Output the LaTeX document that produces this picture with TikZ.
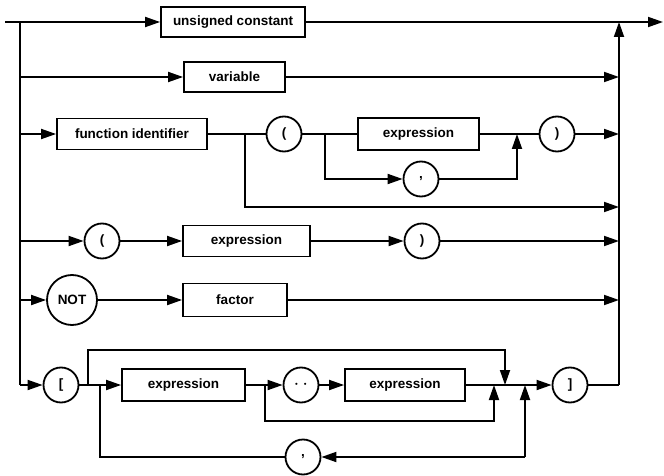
\documentclass[tikz,border=0pt]{standalone}
\usepackage{fontspec}
\setmainfont{Liberation Sans}
\usetikzlibrary{arrows.meta}
\begin{document}
\begin{tikzpicture}[x=1pt,y=-1pt,line width=1.8pt,
  lbl/.style={font=\fontsize{13.5}{15}\selectfont\bfseries},
  box/.style={draw,rectangle,lbl,inner sep=0pt,minimum height=30pt},
  circ/.style={draw,circle,lbl,inner sep=0pt,minimum size=35pt},
  arr/.style={-{Triangle[length=15pt,width=10pt]}}]
\path[use as bounding box] (0,0) rectangle (664,476);
% nodes
\node[box,minimum width=144pt] (uc) at (233,22) {unsigned constant};
\node[box,minimum width=101pt] (var) at (234.5,77) {variable};
\node[box,minimum width=150pt,minimum height=31pt] (fi) at (132,134) {function identifier};
\node[circ] (lp3) at (284,134) {(};
\node[box,minimum width=121pt,minimum height=32pt] (ex3) at (418.5,134) {expression};
\node[circ] (rp3) at (557,134) {)};
\node[circ] (cm3) at (421,179) {\raisebox{3pt}{,}};
\node[circ] (lp4) at (102,241) {(};
\node[box,minimum width=127pt,minimum height=31pt] (ex4) at (246.5,241) {expression};
\node[circ] (rp4) at (422,241) {)};
\node[circ,minimum size=50pt] (not) at (72,300) {NOT};
\node[box,minimum width=104pt,minimum height=33pt] (fac) at (235,300) {factor};
\node[circ] (lb) at (61,385) {[};
\node[box,minimum width=123pt,minimum height=32pt] (exA) at (183.5,385) {expression};
\node[circ] (dots) at (301,385) {\fontsize{22}{22}\selectfont$\cdot\hspace{3pt}\cdot$};
\node[box,minimum width=120pt,minimum height=32pt] (exB) at (405,385) {expression};
\node[circ] (rb) at (570,385) {]};
\node[circ] (cm6) at (303,457) {\raisebox{3pt}{,}};
% coordinates
\coordinate (start) at (5,22);
\coordinate (fin) at (663,22);
\coordinate (L1) at (20,22);
\coordinate (L2) at (20,77);
\coordinate (L3) at (20,134);
\coordinate (L4) at (20,241);
\coordinate (L5) at (20,300);
\coordinate (L6) at (20,385);
\coordinate (R1) at (619,22);
\coordinate (R2) at (619,77);
\coordinate (R3) at (619,134);
\coordinate (R3b) at (619,207);
\coordinate (R4) at (619,241);
\coordinate (R5) at (619,300);
\coordinate (R6) at (619,385);
\coordinate (j3a) at (245,134);
\coordinate (j3b) at (325,134);
\coordinate (j3c) at (517,134);
\coordinate (j6a) at (88,385);
\coordinate (t6) at (505,350);
\coordinate (j6c) at (505,385);
\coordinate (j6b) at (100,385);
\coordinate (j6d) at (265,385);
\coordinate (b6) at (494,421);
\coordinate (j6e) at (494,385);
\coordinate (c6a) at (525,457);
\coordinate (j6f) at (525,385);
% row 1
\draw (start) -- (L1);
\draw[arr] (L1) -- (uc);
\draw[arr] (uc) -- (fin);
\draw (L1) -- (L6);
\draw[arr] (R6) -- (R1);
% row 2
\draw[arr] (L2) -- (var);
\draw[arr] (var) -- (R2);
% row 3
\draw[arr] (L3) -- (fi);
\draw (fi) -- (lp3);
\draw (lp3) -- (ex3);
\draw (ex3) -- (rp3);
\draw[arr] (rp3) -- (R3);
\draw[arr] (j3a) |- (R3b);
\draw[arr] (j3b) |- (cm3);
\draw[arr] (cm3) -| (j3c);
% row 4
\draw[arr] (L4) -- (lp4);
\draw[arr] (lp4) -- (ex4);
\draw[arr] (ex4) -- (rp4);
\draw[arr] (rp4) -- (R4);
% row 5
\draw[arr] (L5) -- (not);
\draw[arr] (not) -- (fac);
\draw[arr] (fac) -- (R5);
% row 6
\draw[arr] (L6) -- (lb);
\draw (lb) -- (j6b);
\draw[arr] (j6a) |- (t6) -- (j6c);
\draw[arr] (j6b) -- (exA);
\draw (exA) -- (j6d);
\draw[arr] (j6d) -- (dots);
\draw[arr] (dots) -- (exB);
\draw[arr] (exB) -- (rb);
\draw[arr] (j6d) |- (b6) -- (j6e);
\draw[arr] (c6a) -- (j6f);
\draw[arr] (c6a) -- (cm6);
\draw (cm6) -| (j6b);
\draw (rb) -- (R6);
\end{tikzpicture}
\end{document}
